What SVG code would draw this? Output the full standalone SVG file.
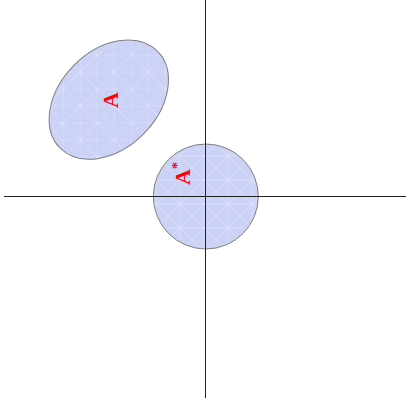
<svg xmlns="http://www.w3.org/2000/svg" width="408" height="407" viewBox="0 0 408 407">
<style>
.axis{stroke:#222;stroke-width:1;fill:none}
.set{fill:url(#tex);stroke:#808080;stroke-width:1}
.lbl{fill:#ff0000;font-family:"Liberation Serif",serif;font-weight:bold;font-size:22px}
</style>
<defs>
<pattern id="tex" patternUnits="userSpaceOnUse" width="24" height="24">
<rect width="24" height="24" fill="#cbd2f6"/>
<g stroke="#ffffff" stroke-opacity="0.3" stroke-width="0.8" fill="none">
<path d="M0 0L24 24M24 0L0 24M12 0V24M0 12H24"/>
</g>
</pattern>
</defs>
<g id="setA">
<ellipse class="set" cx="108.8" cy="99.6" rx="68.7" ry="48.9" transform="rotate(-45 108.8 99.6)"/>
<text class="lbl" transform="translate(117.5,108) rotate(-90)">A</text>
</g>
<g id="setAstar">
<circle class="set" cx="205.8" cy="196.5" r="52.5"/>
<text class="lbl" transform="translate(190,185) rotate(-90)">A<tspan dy="-8" font-size="14">*</tspan></text>
</g>
<g id="connectors">
<line class="axis" x1="4" y1="196.5" x2="406" y2="196.5"/>
<line class="axis" x1="205.5" y1="0" x2="205.5" y2="398"/>
</g>
</svg>
